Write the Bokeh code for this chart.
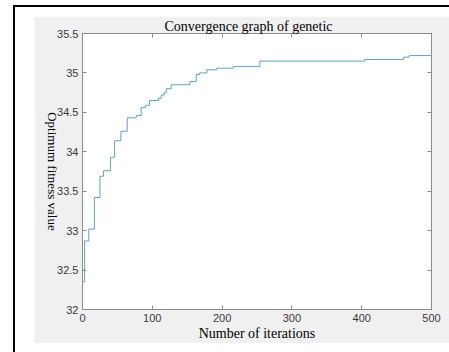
import math
from bokeh.plotting import figure
from bokeh.layouts import row, column
from bokeh.models import (FixedTicker, LinearAxis, Range1d, Spacer,
                          CustomJSTickFormatter)
from bokeh.embed import file_html
from bokeh.resources import INLINE

# ---- data ----
iterations = [0, 3, 9, 17, 25, 30, 40, 46, 55, 64, 77, 84, 90, 96, 109, 113, 117,
              120, 127, 154, 163, 168, 178, 192, 216, 254, 404, 460, 468, 500]
fitness = [32.35, 32.87, 33.02, 33.42, 33.69, 33.76, 33.93, 34.14, 34.26, 34.43,
           34.46, 34.56, 34.59, 34.65, 34.68, 34.72, 34.75, 34.80, 34.85, 34.89,
           34.98, 35.00, 35.04, 35.06, 35.08, 35.15, 35.17, 35.20, 35.22, 35.22]

x_ticks = [0, 100, 200, 300, 400, 500]
x_labels = ["0", "100", "200", "300", "400", "500"]
y_ticks = [32, 32.5, 33, 33.5, 34, 34.5, 35, 35.5]
y_labels = ["32", "32.5", "33", "33.5", "34", "34.5", "35", "35.5"]

title_text = "Convergence graph of genetic"
x_title = "Number of iterations"
y_title = "Optimum fitness value"

# ---- styles ----
W, H = 415, 327
GRAY_BG = "#f0f0f0"
AXIS_COL = "#8c8c8c"
TICK_TXT = "#3a3a3a"
LINE_COL = "#5fa2c8"
SERIF = "Liberation Serif"
SANS = "Liberation Sans"
Y_TITLE_END = 33.0   # where the top-to-bottom y title ends (axis position)

p = figure(width=W, height=H, output_backend="svg", toolbar_location=None,
           title=title_text, x_range=Range1d(0, 500), y_range=Range1d(32, 35.5),
           min_border_left=46, min_border_right=18, min_border_top=17,
           min_border_bottom=34)
p.border_fill_color = GRAY_BG
p.background_fill_color = "white"
p.outline_line_color = AXIS_COL
p.outline_line_width = 1
p.xgrid.visible = False
p.ygrid.visible = False

p.title.text_font = SERIF
p.title.text_font_size = "14px"
p.title.text_font_style = "normal"
p.title.text_color = "black"
p.title.align = "left"
p.title.offset = 82
p.title.standoff = 0


def fmt(tick_vals, labels):
    return CustomJSTickFormatter(args=dict(tv=tick_vals, lb=labels), code="""
        const i = tv.findIndex(t => Math.abs(t - tick) < 1e-9);
        return i >= 0 ? lb[i] : "";
    """)


def style_axis(ax, show_labels=True):
    ax.axis_line_color = AXIS_COL
    ax.major_tick_line_color = AXIS_COL
    ax.major_tick_in = 4
    ax.major_tick_out = 0
    ax.minor_tick_line_color = None
    ax.major_label_text_font = SANS
    ax.major_label_text_color = TICK_TXT
    ax.major_label_text_font_size = "11px" if show_labels else "0px"
    ax.axis_label_text_font = SERIF
    ax.axis_label_text_font_size = "14px"
    ax.axis_label_text_font_style = "normal"
    ax.axis_label_text_color = "black"
    if not show_labels:
        ax.major_label_text_color = None


xa = p.xaxis[0]
xa.ticker = FixedTicker(ticks=x_ticks)
xa.formatter = fmt(x_ticks, x_labels)
style_axis(xa)
xa.major_label_standoff = 4
xa.axis_label = x_title
xa.axis_label_standoff = 1

ya = p.yaxis[0]
ya.ticker = FixedTicker(ticks=y_ticks)
ya.formatter = fmt(y_ticks, y_labels)
style_axis(ya)
ya.major_label_standoff = 4

# y title, reading top-to-bottom, drawn as the single label of an outer axis
title_axis = LinearAxis(ticker=FixedTicker(ticks=[Y_TITLE_END]),
                        formatter=fmt([Y_TITLE_END], [y_title]))
title_axis.axis_line_color = None
title_axis.major_tick_line_color = None
title_axis.minor_tick_line_color = None
title_axis.major_tick_in = 0
title_axis.major_tick_out = 0
title_axis.major_label_text_font = SERIF
title_axis.major_label_text_font_size = "13px"
title_axis.major_label_text_color = "black"
title_axis.major_label_orientation = -math.pi / 2
title_axis.major_label_standoff = 2
p.add_layout(title_axis, "left")

top_ax = LinearAxis(ticker=FixedTicker(ticks=x_ticks), formatter=fmt(x_ticks, x_labels))
style_axis(top_ax, show_labels=False)
top_ax.major_label_standoff = 0
p.add_layout(top_ax, "above")

right_ax = LinearAxis(ticker=FixedTicker(ticks=y_ticks), formatter=fmt(y_ticks, y_labels))
style_axis(right_ax, show_labels=False)
right_ax.major_label_standoff = 0
p.add_layout(right_ax, "right")

# curve
p.step(iterations, fitness, mode="after", line_color=LINE_COL, line_width=1.0)


def sp(w, h, color):
    return Spacer(width=w, height=h, styles={"background-color": color})


inner = column(sp(W, 9, "white"), p, spacing=0)
mid = row(sp(13, 345, "white"), sp(2, 345, "black"), sp(19, 345, "white"), inner,
          spacing=0)
top_line = row(sp(13, 2, "white"), sp(436, 2, "black"), spacing=0)
layout = column(sp(449, 5, "white"), top_line, mid, spacing=0)

open("out.html", "w").write(file_html(layout, INLINE))
